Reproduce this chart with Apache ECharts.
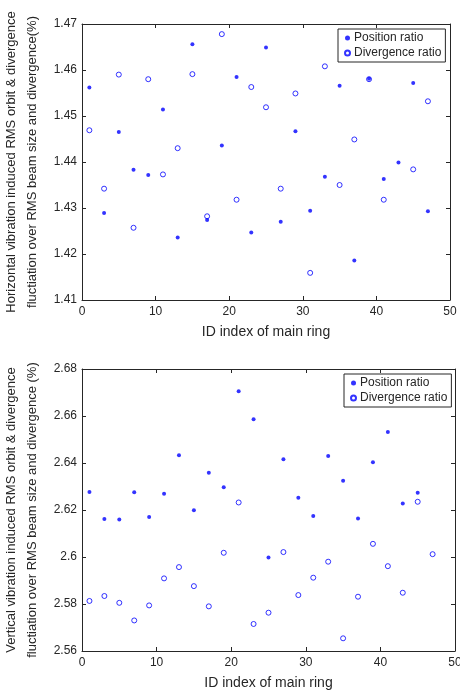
<!DOCTYPE html>
<html>
<head>
<meta charset="utf-8">
<script src="https://cdn.jsdelivr.net/npm/echarts@6/dist/echarts.min.js"></script>
<style>
    html, body { margin: 0; padding: 0; background: #fff; }
    #chart { width: 460px; height: 691px; }
</style>
</head>
<body>
<div id="chart"></div>
<script>
// 横向：位置比 / 发散角比
var hPosId = [1, 3, 5, 7, 9, 11, 13, 15, 17, 19, 21, 23, 25, 27, 29, 31, 33, 35, 37, 39, 41, 43, 45, 47];
var hPos = [1.4562, 1.4289, 1.4465, 1.4383, 1.4372, 1.4514, 1.4236, 1.4656, 1.4274, 1.4436, 1.4585, 1.4247,
    1.4649, 1.4270, 1.4467, 1.4294, 1.4368, 1.4566, 1.4186, 1.4581, 1.4363, 1.4399, 1.4572, 1.4293];
var hDivId = [1, 3, 5, 7, 9, 11, 13, 15, 17, 19, 21, 23, 25, 27, 29, 31, 33, 35, 37, 39, 41, 45, 47];
var hDiv = [1.4469, 1.4342, 1.4590, 1.4257, 1.4580, 1.4373, 1.4430, 1.4591, 1.4282, 1.4678, 1.4318, 1.4563,
    1.4519, 1.4342, 1.4549, 1.4159, 1.4608, 1.4350, 1.4449, 1.4580, 1.4318, 1.4384, 1.4532];
// 纵向
var vPosId = [1, 3, 5, 7, 9, 11, 13, 15, 17, 19, 21, 23, 25, 27, 29, 31, 33, 35, 37, 39, 41, 43, 45];
var vPos = [2.6277, 2.6162, 2.6160, 2.6276, 2.6170, 2.6269, 2.6433, 2.6199, 2.6359, 2.6297, 2.6705, 2.6586,
    2.5998, 2.6416, 2.6252, 2.6175, 2.6430, 2.6325, 2.6164, 2.6403, 2.6532, 2.6228, 2.6273];
var vDivId = [1, 3, 5, 7, 9, 11, 13, 15, 17, 19, 21, 23, 25, 27, 29, 31, 33, 35, 37, 39, 41, 43, 45, 47];
var vDiv = [2.5813, 2.5834, 2.5805, 2.5730, 2.5794, 2.5909, 2.5957, 2.5876, 2.5790, 2.6018, 2.6232, 2.5715,
    2.5763, 2.6021, 2.5838, 2.5912, 2.5980, 2.5654, 2.5831, 2.6056, 2.5961, 2.5848, 2.6235, 2.6012];

var xTicks = [0, 50, 10];
var hTicks = [1.41, 1.47, 0.01];
var vTicks = [2.56, 2.68, 0.02];

var names = ['Position ratio', 'Divergence ratio'];
var xName = 'ID index of main ring';
var hName = 'Horizontal vibration induced RMS orbit & divergence\nfluctiation over RMS beam size and divergence(%)';
var vName = 'Vertical vibration induced RMS orbit & divergence\nfluctiation over RMS beam size and divergence (%)';

var ink = '#262626';
var blue = '#0000ff';
var font = 'Liberation Sans, Arial, sans-serif';

function pairs(ids, vals) {
    var out = [];
    for (var i = 0; i < ids.length; i++) out.push([ids[i], vals[i]]);
    return out;
}

// 主轴（带刻度文字）和对边的装饰轴
function xAxisOf(grid, main) {
    return {
        type: 'value', gridIndex: grid, min: xTicks[0], max: xTicks[1], interval: xTicks[2],
        position: main ? 'bottom' : 'top',
        name: main ? xName : '', nameLocation: 'middle', nameGap: 25,
        nameTextStyle: { color: ink, fontSize: 14, fontFamily: font },
        axisLine: { onZero: false, lineStyle: { color: ink, width: 1 } },
        axisTick: { inside: true, length: 4, lineStyle: { color: ink } },
        axisLabel: { show: main, color: ink, fontSize: 12, fontFamily: font, margin: 6 },
        splitLine: { show: false }
    };
}
function yAxisOf(grid, t, nm, main) {
    return {
        type: 'value', gridIndex: grid, min: t[0], max: t[1], interval: t[2],
        position: main ? 'left' : 'right',
        name: main ? nm : '', nameLocation: 'middle', nameRotate: 90, nameGap: 39,
        nameTextStyle: { color: ink, fontSize: 13, fontFamily: font, lineHeight: 21 },
        axisLine: { onZero: false, lineStyle: { color: ink, width: 1 } },
        axisTick: { inside: true, length: 4, lineStyle: { color: ink } },
        axisLabel: { show: main, color: ink, fontSize: 12, fontFamily: font, margin: 5 },
        splitLine: { show: false }
    };
}
function legendOf(left, top) {
    return {
        data: names, orient: 'vertical', left: left, top: top,
        backgroundColor: '#fff', borderColor: ink, borderWidth: 1,
        padding: [3, 4, 3, 6], itemGap: 3, itemWidth: 5, itemHeight: 5,
        textStyle: { color: ink, fontSize: 12, fontFamily: font, padding: [0, 0, 0, -1] },
        selectedMode: false
    };
}
function dots(name, x, y, data) {
    return {
        name: name, type: 'scatter', xAxisIndex: x, yAxisIndex: y, data: data,
        symbol: 'circle', symbolSize: 4,
        itemStyle: { color: blue }
    };
}
function rings(name, x, y, data) {
    return {
        name: name, type: 'scatter', xAxisIndex: x, yAxisIndex: y, data: data,
        symbol: 'circle', symbolSize: 5,
        itemStyle: { color: 'rgba(255,255,255,0)', borderColor: blue, borderWidth: 1 }
    };
}

var myChart = echarts.init(document.getElementById('chart'));
var option = {
    backgroundColor: '#fff',
    animation: false,
    grid: [
        { left: 82, top: 24, width: 368, height: 276, outerBoundsMode: 'none' },
        { left: 82, top: 369, width: 373, height: 282, outerBoundsMode: 'none' }
    ],
    legend: [legendOf(338, 29), legendOf(344, 374)],
    xAxis: [xAxisOf(0, true), xAxisOf(0, false), xAxisOf(1, true), xAxisOf(1, false)],
    yAxis: [yAxisOf(0, hTicks, hName, true), yAxisOf(0, hTicks, '', false),
        yAxisOf(1, vTicks, vName, true), yAxisOf(1, vTicks, '', false)],
    series: [
        rings(names[1], 0, 0, pairs(hDivId, hDiv)),
        dots(names[0], 0, 0, pairs(hPosId, hPos)),
        rings(names[1], 2, 2, pairs(vDivId, vDiv)),
        dots(names[0], 2, 2, pairs(vPosId, vPos))
    ]
};
myChart.setOption(option);
</script>
</body>
</html>
